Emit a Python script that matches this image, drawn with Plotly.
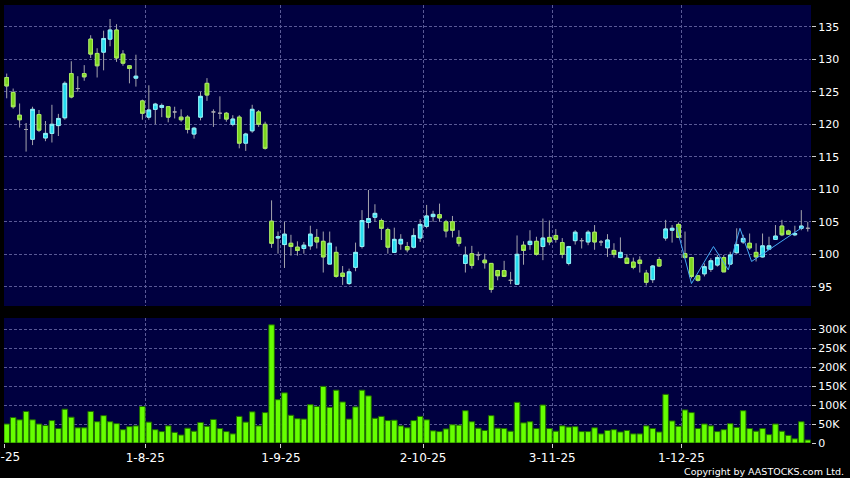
import plotly.graph_objects as go

# ---------------- data ----------------
opens = [127.2,124.9,121.4,119.2,117.7,121.5,117.9,118.6,119.8,121.0,
         127.8,125.5,127.8,133.1,130.9,131.1,133.1,134.5,130.8,129.0,
         127.1,123.6,121.1,122.3,122.6,122.7,121.9,121.1,121.1,118.5,
         121.1,126.3,121.9,121.7,121.7,120.0,121.1,117.1,119.0,121.9,
         120.0,105.1,102.5,101.5,101.7,101.1,100.9,101.3,102.6,102.0,
         98.5,100.3,97.1,95.5,98.0,101.2,104.9,105.7,105.2,103.8,
         100.3,101.6,101.2,101.1,102.5,104.3,105.8,106.1,105.0,105.0,
         102.6,98.6,100.1,99.9,99.1,98.6,97.5,97.5,96.0,95.4,
         101.4,101.5,102.0,101.2,102.6,102.9,101.8,98.6,102.1,102.1,
         101.9,103.4,101.9,101.0,100.6,99.5,99.4,98.8,99.1,97.1,
         96.1,99.2,102.5,103.7,104.6,100.1,99.5,96.7,97.0,97.7,
         98.35,99.5,98.5,100.25,101.9,101.7,100.3,99.6,100.8,102.3,
         104.35,103.6,103.0,104.0,104.0]
closes = [125.9,122.7,120.7,119.2,122.3,119.1,118.6,120.0,120.9,126.3,
          124.2,125.5,127.3,130.8,129.0,133.2,134.5,130.2,129.4,128.6,
          127.4,121.7,122.2,123.1,122.9,121.1,121.9,120.7,119.2,119.4,
          124.3,124.5,121.9,121.7,120.8,120.8,117.1,118.5,122.3,120.0,
          116.3,101.7,102.7,103.1,101.2,100.6,101.4,103.1,101.9,99.6,
          101.7,96.6,96.6,97.3,100.3,105.2,105.5,106.3,104.0,101.1,
          102.3,102.3,100.7,102.9,104.6,105.9,106.15,105.6,103.6,103.7,
          101.7,99.9,98.3,99.9,98.7,94.6,96.7,96.6,96.0,100.0,
          100.6,102.0,100.0,102.5,101.9,102.3,100.0,101.2,103.4,102.1,
          103.4,101.9,101.9,102.2,100.0,100.3,98.6,98.0,98.6,95.7,
          98.2,98.2,103.9,104.0,102.6,99.5,96.6,96.0,98.1,99.0,
          99.5,97.3,99.9,101.5,102.45,101.0,99.6,101.3,101.3,102.8,
          103.0,103.1,103.2,104.35,104.0]
highs = [127.8,125.5,123.2,120.2,122.7,122.2,120.5,123.0,121.6,126.6,
         129.7,127.4,129.1,133.7,131.7,134.4,136.2,135.4,131.4,129.1,
         130.7,123.8,126.0,123.3,123.2,122.8,122.7,122.3,121.4,119.6,
         125.0,127.1,122.3,124.3,121.9,121.4,121.4,118.7,123.0,122.2,
         120.4,108.3,103.5,105.0,103.0,102.0,101.9,104.4,103.9,103.5,
         103.5,101.2,98.2,97.8,101.8,106.8,109.9,107.7,105.5,104.1,
         104.1,103.1,101.9,104.0,105.4,107.6,106.7,107.8,105.3,105.9,
         103.7,101.2,101.3,100.4,100.1,98.6,97.6,99.0,97.3,102.9,
         102.0,103.7,102.7,105.5,105.2,103.9,102.5,101.3,103.7,102.5,
         103.7,104.5,102.2,103.1,101.7,102.6,100.0,99.5,99.7,97.6,
         98.35,99.6,105.3,104.5,104.9,103.5,99.6,96.8,98.6,99.4,
         99.9,99.9,100.4,104.0,103.0,103.2,101.7,103.2,102.7,104.5,
         105.3,103.8,104.4,106.8,105.0]
lows = [124.0,122.4,119.5,115.8,116.8,118.8,117.4,117.2,118.2,120.7,
        124.0,125.0,126.7,130.2,127.2,128.3,132.0,129.6,129.0,126.3,
        125.8,120.7,120.7,120.0,121.1,120.3,120.9,120.4,118.6,117.8,
        120.6,123.6,119.6,120.8,120.4,119.7,116.3,115.9,118.7,119.6,
        116.1,101.0,100.1,97.9,99.8,99.8,100.1,100.7,100.9,97.2,
        98.5,96.4,95.3,95.3,97.4,100.9,104.0,105.0,102.2,100.1,
        100.3,100.7,100.3,100.9,101.9,104.0,105.0,105.0,102.6,102.6,
        101.2,97.2,97.8,99.1,97.8,94.1,96.0,96.5,95.4,95.4,
        98.4,100.7,99.8,99.1,101.4,101.8,99.4,98.3,101.5,100.9,
        101.4,100.7,101.3,99.6,99.5,99.4,98.5,97.7,97.2,95.2,
        95.6,98.1,102.1,101.8,102.5,99.4,96.3,95.8,96.6,97.3,
        98.1,97.3,98.35,100.1,101.6,100.7,98.9,99.5,100.7,102.2,
        102.8,103.0,102.8,103.7,103.5]
volumes_k = [50,67,61,83,61,50,46,59,38,89,
             68,40,40,83,56,72,56,51,35,43,
             45,96,55,35,30,45,28,21,39,31,
             54,44,62,38,30,24,70,55,82,45,
             80,311,114,132,73,64,63,101,96,149,
             94,139,108,63,95,139,124,65,70,59,
             60,45,40,59,70,61,32,30,37,48,
             47,85,56,39,33,72,39,38,31,107,
             53,56,38,100,38,31,45,42,43,30,
             30,40,24,33,35,29,33,24,24,45,
             38,29,128,58,44,87,80,38,50,45,
             30,35,51,41,85,38,31,38,22,50,
             31,20,11,56,8]

# first trading-day index of each month and its label
month_first_idx = [0, 21, 42, 64, 84, 104]
month_labels = ["3-7-25", "1-8-25", "1-9-25", "2-10-25", "3-11-25", "1-12-25"]

# overlay line (zig-zag) points
zz_x = [103.7, 106.0, 109.4, 111.7, 113.5, 115.3, 123.3]
zz_y = [104.2, 95.5, 101.2, 97.6, 104.0, 98.9, 104.25]

price_ticks = [95, 100, 105, 110, 115, 120, 125, 130, 135]
vol_ticks = [0, 50000, 100000, 150000, 200000, 250000, 300000]
vol_tick_text = ["0", "50K", "100K", "150K", "200K", "250K", "300K"]

# ---------------- styling ----------------
W, Hh = 850, 478
NAVY = "#000040"
GRID = "#5a5a96"
FONT = "DejaVu Sans"
UP_FILL, UP_LINE = "#26dcee", "#8af2fb"
DN_FILL, DN_LINE = "#7ad41e", "#a6ec5a"
WICK = "#a4a4ac"

N = len(opens)
x = list(range(N))
volumes = [v * 1000 for v in volumes_k]

nd = [i for i in x if opens[i] != closes[i]]
btop = [max(opens[i], closes[i]) for i in nd]
bbot = [min(opens[i], closes[i]) for i in nd]

fig = go.Figure()

# wicks + doji (grey)
fig.add_trace(go.Candlestick(
    x=x, open=opens, high=highs, low=lows, close=closes,
    increasing=dict(line=dict(color=WICK, width=1), fillcolor=WICK),
    decreasing=dict(line=dict(color=WICK, width=1), fillcolor=WICK),
    xaxis="x", yaxis="y", showlegend=False, hoverinfo="skip"))

# coloured bodies
fig.add_trace(go.Candlestick(
    x=nd, open=[opens[i] for i in nd], high=btop, low=bbot,
    close=[closes[i] for i in nd],
    increasing=dict(line=dict(color=UP_LINE, width=1), fillcolor=UP_FILL),
    decreasing=dict(line=dict(color=DN_LINE, width=1), fillcolor=DN_FILL),
    xaxis="x", yaxis="y", showlegend=False))

fig.add_trace(go.Scatter(
    x=zz_x, y=zz_y, mode="lines", line=dict(color="#45a8f5", width=1),
    xaxis="x", yaxis="y", showlegend=False, hoverinfo="skip"))

fig.add_trace(go.Bar(
    x=x, y=volumes, marker=dict(color="#66ff00", line=dict(color="#1f6a00", width=1)),
    xaxis="x2", yaxis="y2", showlegend=False))

tickvals = [-0.4] + [i + 0.45 for i in month_first_idx[1:]]
ticktext = [""] + month_labels[1:]

xdom = [4 / W, 811 / W]
xr = [-0.418, 124.5]
common_x = dict(domain=xdom, range=xr, tickvals=tickvals, showgrid=True,
                gridcolor=GRID, griddash="3px,2px", gridwidth=1, automargin=False,
                zeroline=False, showline=False, fixedrange=True)
common_y = dict(side="right", ticks="outside", ticklen=4, tickcolor="#d0d0d0",
                tickfont=dict(family=FONT, size=11, color="white"), automargin=False,
                showgrid=True, gridcolor=GRID, griddash="3px,2px", gridwidth=1,
                zeroline=False, showline=False, fixedrange=True)

fig.update_layout(
    width=W, height=Hh, autosize=False,
    margin=dict(l=0, r=0, t=0, b=0, pad=0, autoexpand=False),
    paper_bgcolor="black", plot_bgcolor=NAVY,
    font=dict(family=FONT, color="white"),
    bargap=0.14, boxgap=0.2,
    xaxis=dict(common_x, anchor="y", showticklabels=False, ticks="",
               rangeslider=dict(visible=False)),
    yaxis=dict(common_y, anchor="x", domain=[1 - 306 / Hh, 1 - 5 / Hh],
               range=[92.05, 138.35], tickvals=price_ticks),
    xaxis2=dict(common_x, anchor="y2", matches="x", ticktext=ticktext,
                ticks="outside", ticklen=4, tickcolor="#d0d0d0",
                tickfont=dict(family=FONT, size=12, color="white"),
                rangeslider=dict(visible=False)),
    yaxis2=dict(common_y, anchor="x2", domain=[1 - 443 / Hh, 1 - 318 / Hh],
                range=[0, 329000], tickvals=vol_ticks, ticktext=vol_tick_text),
    annotations=[
        dict(text=month_labels[0], xref="paper", yref="paper", x=0, y=1 - 457 / Hh,
             xanchor="center", yanchor="middle", showarrow=False,
             font=dict(family=FONT, size=12, color="white")),
        dict(text="Copyright by AASTOCKS.com Ltd.", xref="paper", yref="paper",
             x=846 / W, y=1 - 471 / Hh, xanchor="right", yanchor="middle",
             showarrow=False, font=dict(family=FONT, size=9.5, color="white")),
    ],
)

fig.write_html("out.html", config={"displayModeBar": False},
               post_script="document.body.style.margin='0';"
                           "document.body.style.overflow='hidden';"
                           "document.body.style.background='black';")
